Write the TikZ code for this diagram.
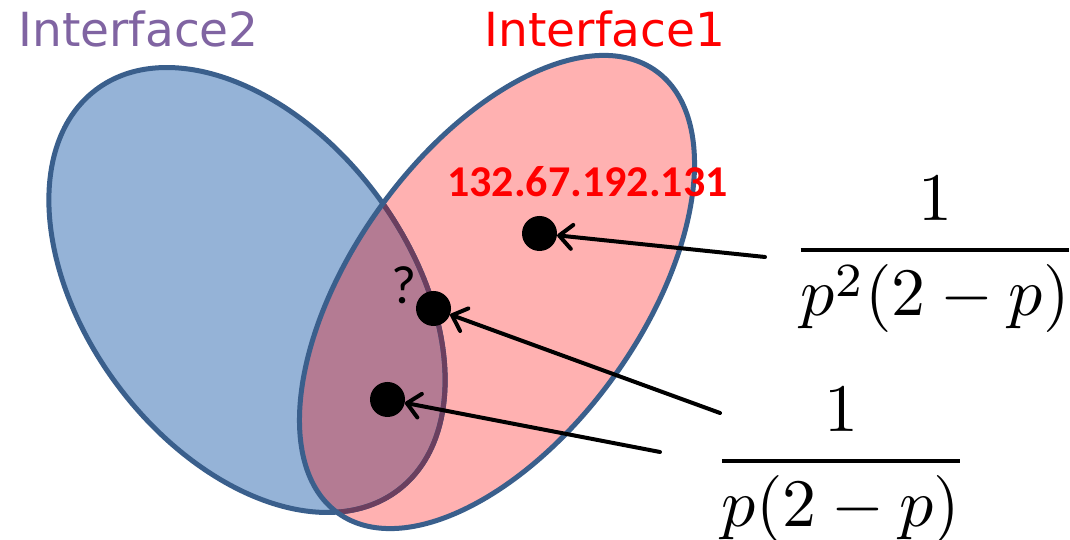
\documentclass[tikz,border=0pt]{standalone}
\usepackage{amsmath}
\usepackage{fontspec}
\usetikzlibrary{arrows.meta}
\newfontfamily\labelfont{DejaVu Sans}
\newfontfamily\calfont{Carlito}
\definecolor{bluefill}{HTML}{95B3D7}
\definecolor{pinkfill}{HTML}{FFB1B1}
\definecolor{interfill}{HTML}{B47B93}
\definecolor{edgecol}{HTML}{3A5F8C}
\definecolor{interedge}{HTML}{6B3F5F}
\definecolor{ifpurple}{HTML}{8064A2}
\begin{document}
\begin{tikzpicture}[x=1pt,y=1pt,
  blueshape/.style={rotate around={127:(247,250)}},
  redshape/.style={rotate around={54.26:(497,248)}},
  outline/.style={line width=5pt},
  dot/.style={circle,fill=black,inner sep=0pt,minimum size=35pt},
  ptr/.style={line width=4pt,line cap=round,-{Straight Barb[length=13pt,width=24pt,round]}},
  iflabel/.style={font=\labelfont\fontsize{47}{56}\selectfont,anchor=base,inner sep=0pt},
  fraclabel/.style={scale=6.8,anchor=base,inner sep=0pt}
]
\useasboundingbox (0,0) rectangle (1070,540);
% fills
\fill[bluefill,blueshape] (247,250) ellipse [x radius=250.8pt, y radius=160.7pt];
\fill[pinkfill,redshape] (497,248) ellipse [x radius=272.3pt, y radius=144.3pt];
\begin{scope}
  \clip[blueshape] (247,250) ellipse [x radius=250.8pt, y radius=160.7pt];
  \fill[interfill,redshape] (497,248) ellipse [x radius=272.3pt, y radius=144.3pt];
\end{scope}
% outlines
\draw[edgecol,outline,blueshape] (247,250) ellipse [x radius=250.8pt, y radius=160.7pt];
\begin{scope}
  \clip[redshape] (497,248) ellipse [x radius=272.3pt, y radius=144.3pt];
  \draw[interedge,outline,blueshape] (247,250) ellipse [x radius=250.8pt, y radius=160.7pt];
\end{scope}
\draw[edgecol,outline,redshape] (497,248) ellipse [x radius=272.3pt, y radius=144.3pt];

% labels
\node[iflabel,text=ifpurple] (if2) at (138.5,493) {Interface2};
\node[iflabel,text=red] (if1) at (605,493) {Interface1};
\node[font=\calfont\bfseries\fontsize{44}{52}\selectfont,text=red,anchor=base,inner sep=0pt] (ip) at (587.5,343) {132.67.192.131};
\node[font=\calfont\fontsize{54}{62}\selectfont,anchor=base,inner sep=0pt] (q) at (404,236) {?};

% dots
\node[dot] (d1) at (539.5,306.5) {};
\node[dot] (d2) at (433.5,231.5) {};
\node[dot] (d3) at (387.5,140.5) {};

% fractions
\node[fraclabel] (f1) at (935,273) {$\genfrac{}{}{0.63pt}{0}{1}{p^2(2-p)}$};
\node[fraclabel] (f2) at (841,62) {$\genfrac{}{}{0.63pt}{0}{1}{p(2-p)}$};

% arrows
\coordinate (a1) at (765,283);
\coordinate (a2) at (720,127);
\coordinate (a3) at (660,88);
\draw[ptr] (a1) -- (d1);
\draw[ptr] (a2) -- (d2);
\draw[ptr] (a3) -- (d3);
\end{tikzpicture}
\end{document}
